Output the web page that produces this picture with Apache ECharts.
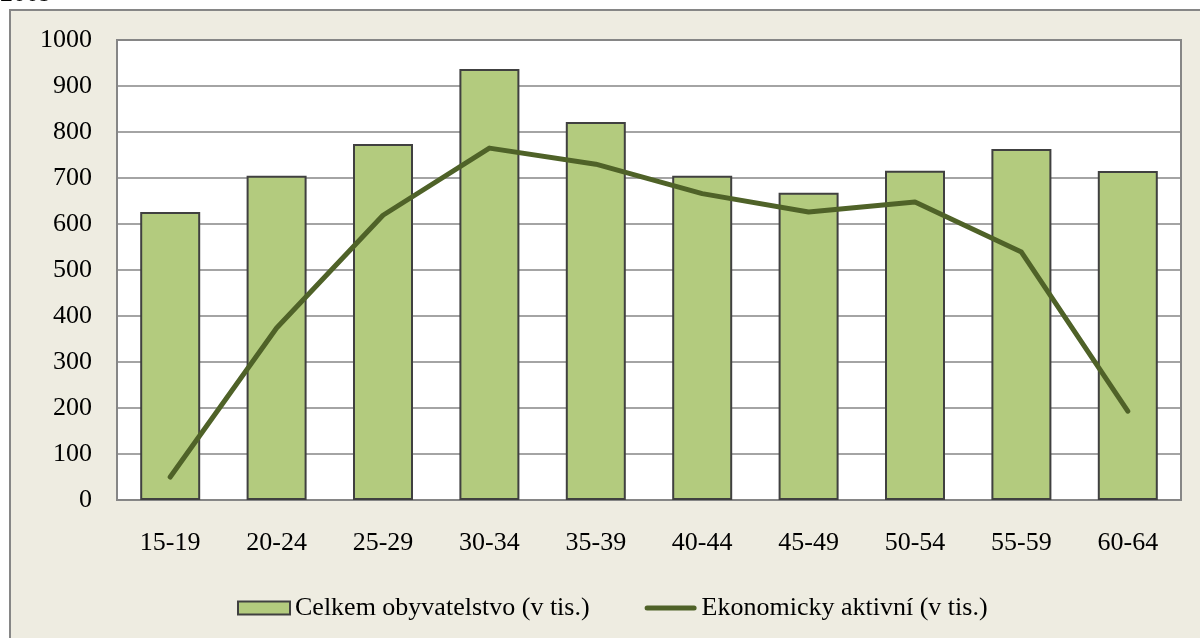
<!DOCTYPE html>
<html>
<head>
<meta charset="utf-8">
<script src="https://cdn.jsdelivr.net/npm/echarts@6/dist/echarts.min.js"></script>
<style>html,body{margin:0;padding:0;background:#fff}#c{width:1200px;height:638px}</style>
</head>
<body>
<div id="c"></div>
<script>
const categories = ['15-19','20-24','25-29','30-34','35-39','40-44','45-49','50-54','55-59','60-64'];
const celkem = [626, 705, 774, 937, 822, 705, 668, 716, 763, 715];
const aktivni = [50, 374, 619, 765, 730, 666, 626, 648, 539, 193];
const seriesNames = ['Celkem obyvatelstvo (v tis.)', 'Ekonomicky aktivní (v tis.)'];
const yTicks = {min: 0, max: 1000, interval: 100};

const font = '"Liberation Serif", "Times New Roman", serif';
const fs = 26;
const chart = echarts.init(document.getElementById('c'), null, {renderer: 'canvas'});
chart.setOption({
  animation: false,
  backgroundColor: '#ffffff',
  textStyle: {fontFamily: font},
  graphic: [
    {type: 'rect', z: -100, shape: {x: 10, y: 10, width: 1200, height: 640},
     style: {fill: '#EEECE1', stroke: '#868686', lineWidth: 2}},
    {type: 'text', z: -100, left: 0, top: -19,
     style: {text: '2009', font: fs + 'px ' + font, fill: '#000'}}
  ],
  grid: {left: 117, right: 19, top: 40, bottom: 138, show: true, backgroundColor: '#ffffff',
         borderColor: '#868686', borderWidth: 2},
  legend: {
    left: 232, top: 590, itemWidth: 52, itemHeight: 13, itemGap: 55,
    symbolKeepAspect: true,
    textStyle: {fontFamily: font, fontSize: fs, color: '#000'},
    data: [
      {name: seriesNames[0], icon: 'rect'},
      {name: seriesNames[1], icon: 'path://M2.5,0 L49.5,0 A2.5,2.5 0 0 1 49.5,5 L2.5,5 A2.5,2.5 0 0 1 2.5,0 Z',
       itemStyle: {color: '#4F6228', borderWidth: 0}}
    ]
  },
  xAxis: {
    type: 'category', data: categories,
    axisLine: {lineStyle: {color: '#868686', width: 2}},
    axisTick: {show: false},
    axisLabel: {color: '#000', fontSize: fs, fontFamily: font, margin: 30}
  },
  yAxis: {
    type: 'value', min: yTicks.min, max: yTicks.max, interval: yTicks.interval,
    axisLine: {show: true, lineStyle: {color: '#868686', width: 2}},
    axisTick: {show: false},
    splitLine: {lineStyle: {color: '#868686', width: 1.5}},
    axisLabel: {color: '#000', fontSize: fs, fontFamily: font, margin: 25,
                formatter: function (v) { return String(v); }}
  },
  series: [
    {name: seriesNames[0], type: 'bar', data: celkem, barWidth: 60,
     itemStyle: {color: '#B3CB7E', borderColor: '#404040', borderWidth: 2}},
    {name: seriesNames[1], type: 'line', data: aktivni, symbol: 'none', showSymbol: false,
     lineStyle: {color: '#4F6228', width: 5, cap: 'round', join: 'round'},
     itemStyle: {color: '#4F6228'}}
  ]
});
</script>
</body>
</html>
